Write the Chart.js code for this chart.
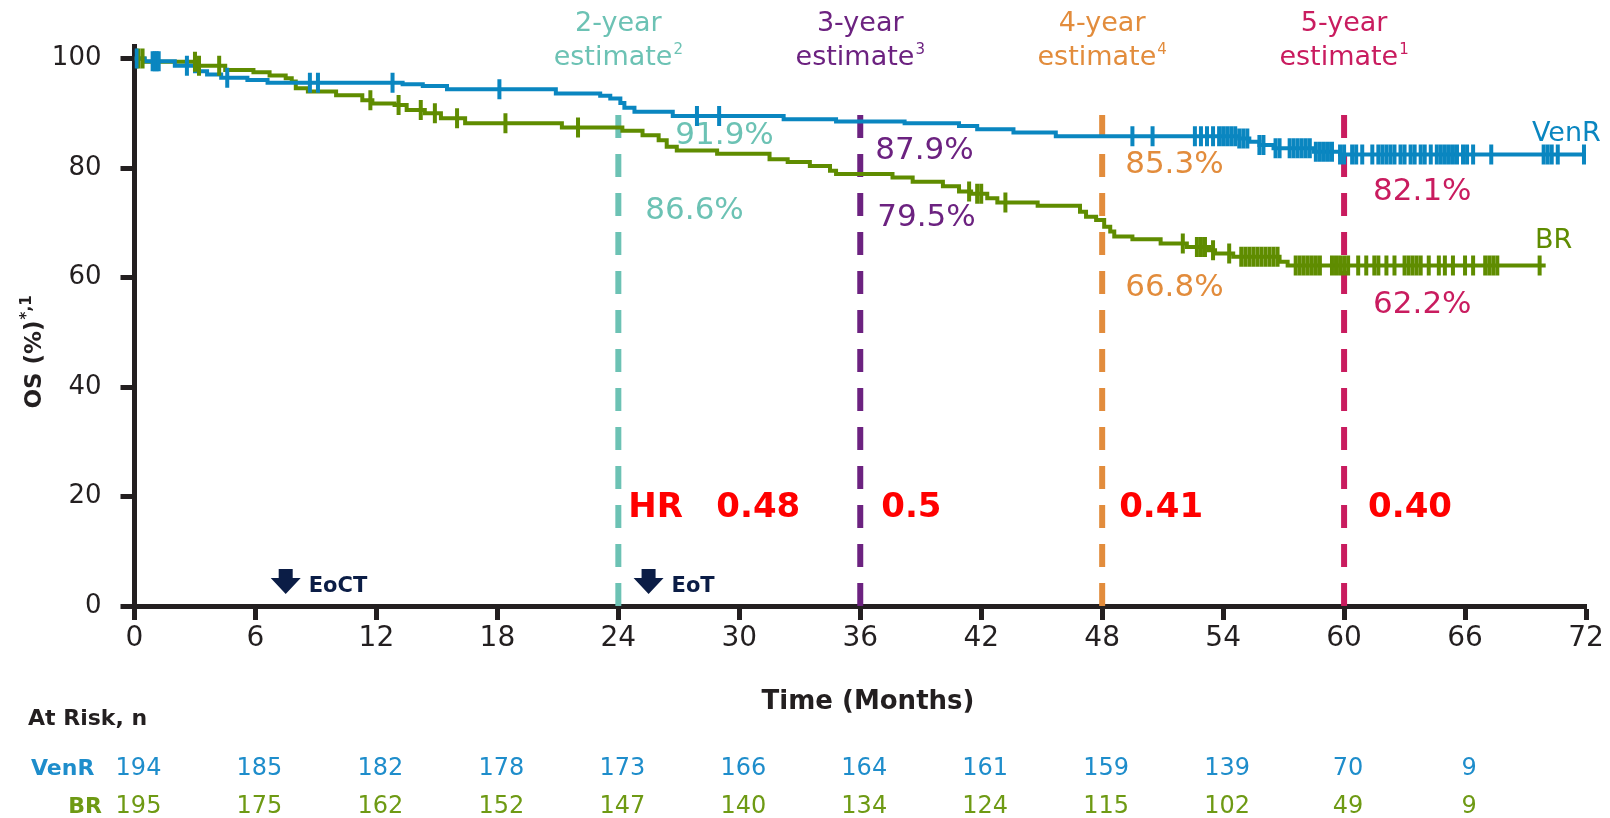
<!DOCTYPE html>
<html><head><meta charset="utf-8">
<script src="https://cdn.jsdelivr.net/npm/chart.js@4.4.1/dist/chart.umd.min.js"></script>
<style>html,body{margin:0;padding:0;background:#fff;overflow:hidden}canvas{display:block}</style>
</head><body>
<canvas id="c" width="1610" height="818"></canvas>
<script>
// ---------- DATA ----------
const xTicks = [0,6,12,18,24,30,36,42,48,54,60,66,72];
const yTicks = [0,20,40,60,80,100];

const venrTimes = [0,0.5,2.0,3.0,3.6,4.3,5.6,6.6,13.3,14.3,15.5,20.9,23.1,23.6,24.1,24.3,24.8,26.7,32.2,34.8,38.2,40.9,41.8,43.6,45.7,54.8,55.3,55.8,56.5,58.5,59.8,72.0];
const venrSurv  = [100,99.5,98.7,97.7,97.1,96.5,96.1,95.6,95.3,95.0,94.4,93.6,93.2,92.7,91.9,91.0,90.3,89.5,88.9,88.5,88.2,87.7,87.1,86.5,85.8,85.4,84.8,84.2,83.6,83.0,82.5,82.5];
const venrCensor = [0.1,0.9,1.0,1.1,1.2,2.6,4.6,8.7,9.1,12.8,18.1,27.9,29.0,49.5,50.5,52.6,52.9,53.2,53.5,53.8,54.0,54.2,54.4,54.6,54.8,55.0,55.2,55.8,56.0,56.6,56.8,57.3,57.5,57.7,57.9,58.1,58.3,58.6,58.8,59.0,59.2,59.4,59.8,60.0,60.4,60.6,60.9,61.4,61.7,61.9,62.1,62.3,62.5,62.8,63.0,63.3,63.5,63.8,64.0,64.3,64.6,64.8,65.0,65.2,65.4,65.6,65.9,66.1,66.4,67.3,69.9,70.1,70.3,70.6,71.9];

const brTimes = [0,0.5,3.1,4.5,5.9,6.7,7.5,7.8,8.0,8.6,10.0,11.3,11.8,12.9,13.5,14.4,15.2,16.4,21.2,24.2,25.2,26.0,26.4,26.9,28.9,31.5,32.4,33.5,34.5,34.8,37.6,38.6,40.1,40.9,41.5,42.3,42.8,44.8,46.9,47.2,47.7,48.1,48.4,48.6,49.5,50.9,52.2,53.3,53.6,54.5,56.8,57.2,70.0];
const brSurv  = [100,99.4,98.7,97.9,97.5,96.9,96.4,95.8,94.6,94.0,93.3,92.4,91.8,91.5,90.6,90.0,89.1,88.2,87.4,86.8,86.0,85.1,83.9,83.2,82.6,81.6,81.1,80.4,79.5,78.9,78.3,77.5,76.7,75.7,75.3,74.5,73.7,73.1,72.0,71.1,70.5,69.3,68.4,67.5,67.0,66.2,65.6,65.0,64.4,63.8,62.9,62.2,62.2];
const brCensor = [0.2,0.4,3.0,3.2,4.2,11.7,13.1,14.2,14.9,16.0,18.4,22.0,41.4,41.8,42.0,43.2,52.0,52.7,52.9,53.1,53.5,54.3,54.9,55.1,55.3,55.5,55.7,55.9,56.1,56.3,56.5,56.7,57.6,57.8,58.0,58.2,58.4,58.6,58.8,59.4,59.6,59.8,60.0,60.2,60.7,61.1,61.5,61.7,62.1,62.5,63.0,63.2,63.4,63.6,63.8,64.2,64.7,65.0,65.4,66.0,66.4,67.0,67.2,67.4,67.6,69.7];

const milestoneMonths = [24,36,48,60];
const milestoneYears = ['2-year','3-year','4-year','5-year'];
const milestoneRefs = ['2','3','4','1'];
const milestoneLineTop = 90.6;
const estVenR = ['91.9%','87.9%','85.3%','82.1%'];
const estBR   = ['86.6%','79.5%','66.8%','62.2%'];
const hrValues = ['0.48','0.5','0.41','0.40'];

const atRiskMonths = [0,6,12,18,24,30,36,42,48,54,60,66];
const atRiskVenR = [194,185,182,178,173,166,164,161,159,139,70,9];
const atRiskBR   = [195,175,162,152,147,140,134,124,115,102,49,9];

const eventLabels = ['EoCT','EoT'];
const eventMonths = [7.5,25.5];

// ---------- STYLE ----------
const C = {
  axis:'#231f20', venr:'#0a86c0', br:'#5f8c00',
  ms:['#6cc2b4','#6c2280','#e28c3c','#c91c5f'],
  red:'#ff0000', navy:'#0b1d46', tblVenR:'#1e8dcb', tblBR:'#6e9a14'
};
const F = 'DejaVu Sans';

function stepAt(times, surv, t){
  let v = surv[0];
  for (let i=0;i<times.length;i++){ if (times[i] <= t) v = surv[i]; else break; }
  return v;
}
const curve = (T,S) => T.map((t,i)=>({x:t,y:S[i]}));
const cens = (c,T,S) => c.map(t=>({x:t,y:stepAt(T,S,t)}));

const datasets = [
  {label:'VenR', data:curve(venrTimes,venrSurv), borderColor:C.venr, borderWidth:4, stepped:'before', pointRadius:0, order:1, borderJoinStyle:'miter'},
  {label:'BR', data:curve(brTimes,brSurv), borderColor:C.br, borderWidth:4, stepped:'before', pointRadius:0, order:1, borderJoinStyle:'miter'},
  {label:'VenR censored', data:cens(venrCensor,venrTimes,venrSurv), showLine:false, pointStyle:'line', rotation:90, pointRadius:10, pointBorderWidth:4, borderColor:C.venr, backgroundColor:C.venr, order:0},
  {label:'BR censored', data:cens(brCensor,brTimes,brSurv), showLine:false, pointStyle:'line', rotation:90, pointRadius:10, pointBorderWidth:4, borderColor:C.br, backgroundColor:C.br, order:0},
];
milestoneMonths.forEach((m,i)=>{
  datasets.push({label:milestoneYears[i], data:[{x:m,y:0},{x:m,y:milestoneLineTop}], borderColor:C.ms[i], borderWidth:6, borderDash:[23,16], borderCapStyle:'butt', pointRadius:0, order:5});
});

function supText(ctx, main, sup, x, y, size, supSize, weight, align){
  ctx.font = `${weight} ${size}px "${F}"`;
  const w1 = ctx.measureText(main).width;
  ctx.font = `${weight} ${supSize}px "${F}"`;
  const w2 = ctx.measureText(sup).width;
  let sx = x;
  if (align==='center') sx = x - (w1+w2+1)/2;
  ctx.textAlign='left';
  ctx.font = `${weight} ${size}px "${F}"`;
  ctx.fillText(main, sx, y);
  ctx.font = `${weight} ${supSize}px "${F}"`;
  ctx.fillText(sup, sx+w1+1, y - size*0.42);
}

const annot = {
  id:'annot',
  beforeDatasetsDraw(chart){
    const ctx = chart.ctx, xs = chart.scales.x;
    ctx.save();
    ctx.textBaseline='alphabetic'; ctx.textAlign='left';
    ctx.font = `31px "${F}"`;
    const vdx=[57,15,23,29], vy=[144,159,173,200];
    const bdx=[27,17,23,29], by=[219,226,296,313];
    milestoneMonths.forEach((m,i)=>{
      const px = xs.getPixelForValue(m);
      ctx.fillStyle = C.ms[i];
      ctx.fillText(estVenR[i], px+vdx[i], vy[i]);
      ctx.fillText(estBR[i], px+bdx[i], by[i]);
    });
    ctx.restore();
  },
  afterDraw(chart){
    const ctx = chart.ctx, xs = chart.scales.x;
    ctx.save();
    ctx.textBaseline='alphabetic';
    // milestone headers
    milestoneMonths.forEach((m,i)=>{
      const px = xs.getPixelForValue(m);
      ctx.fillStyle = C.ms[i];
      ctx.font = `27px "${F}"`; ctx.textAlign='center';
      ctx.fillText(milestoneYears[i], px, 31);
      supText(ctx,'estimate',milestoneRefs[i],px,65,27,15,'normal','center');
    });
    // HR
    ctx.fillStyle = C.red; ctx.font = `bold 34px "${F}"`; ctx.textAlign='left';
    const hrdx=[98,21,17,24];
    milestoneMonths.forEach((m,i)=>{
      const px = xs.getPixelForValue(m);
      if (i===0) ctx.fillText('HR', px+10, 517);
      ctx.fillText(hrValues[i], px+hrdx[i], 517);
    });
    // events
    eventMonths.forEach((m,i)=>{
      const px = xs.getPixelForValue(m);
      ctx.fillStyle = C.navy;
      ctx.beginPath();
      ctx.rect(px-7, 569, 14, 10);
      ctx.moveTo(px-15, 578); ctx.lineTo(px+15,578); ctx.lineTo(px,594); ctx.closePath();
      ctx.fill();
      ctx.font = `bold 21px "${F}"`; ctx.textAlign='left';
      ctx.fillText(eventLabels[i], px+23, 592);
    });
    // end labels
    ctx.font = `27px "${F}"`; ctx.textAlign='left';
    ctx.fillStyle = C.venr; ctx.fillText('VenR', 1532, 141);
    ctx.fillStyle = C.br; ctx.fillText('BR', 1535, 248);
    // axis titles
    ctx.fillStyle = C.axis; ctx.font = `bold 26px "${F}"`; ctx.textAlign='center';
    ctx.fillText('Time (Months)', 868, 709);
    ctx.save();
    ctx.translate(41, 352); ctx.rotate(-Math.PI/2);
    supText(ctx,'OS (%)','*,1',0,0,23,15,'bold','center');
    ctx.restore();
    // at risk table
    ctx.fillStyle = C.axis; ctx.font = `bold 22px "${F}"`; ctx.textAlign='left';
    ctx.fillText('At Risk, n', 28, 725);
    ctx.fillStyle = C.tblVenR; ctx.fillText('VenR', 31, 775);
    ctx.fillStyle = C.tblBR; ctx.textAlign='right'; ctx.fillText('BR', 102, 813);
    ctx.font = `24px "${F}"`; ctx.textAlign='center';
    atRiskMonths.forEach((m,i)=>{
      const px = xs.getPixelForValue(m)+4;
      ctx.fillStyle = C.tblVenR; ctx.fillText(String(atRiskVenR[i]), px, 775);
      ctx.fillStyle = C.tblBR; ctx.fillText(String(atRiskBR[i]), px, 813);
    });
    ctx.restore();
  }
};

new Chart(document.getElementById('c'), {
  type:'line',
  data:{datasets},
  options:{
    responsive:false, animation:false,
    layout:{padding:{top:46,right:24,left:0,bottom:0}},
    plugins:{legend:{display:false}, tooltip:{enabled:false}},
    scales:{
      x:{type:'linear', min:0, max:72,
        afterBuildTicks:s=>{s.ticks = xTicks.map(v=>({value:v}));},
        afterFit:s=>{s.height = 212;},
        ticks:{color:C.axis, font:{family:F,size:28}, padding:2, maxRotation:0, autoSkip:false},
        grid:{display:true, drawOnChartArea:false, drawTicks:true, tickLength:14, tickWidth:5, tickColor:C.axis},
        border:{display:true, color:C.axis, width:5}
      },
      y:{type:'linear', min:0, max:102.3,
        afterBuildTicks:s=>{s.ticks = yTicks.map(v=>({value:v}));},
        afterFit:s=>{s.width = 134.5;},
        ticks:{color:C.axis, font:{family:F,size:26}, padding:19},
        grid:{display:true, drawOnChartArea:false, drawTicks:true, tickLength:14, tickWidth:5, tickColor:C.axis},
        border:{display:true, color:C.axis, width:5}
      }
    }
  },
  plugins:[annot]
});
</script>
</body></html>
